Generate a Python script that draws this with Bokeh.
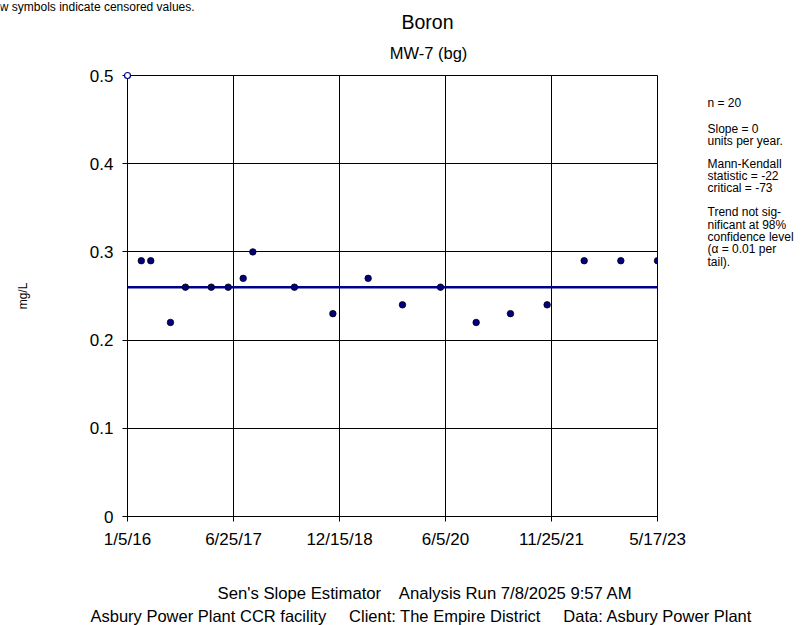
import re
import pandas as pd
from bokeh.plotting import figure
from bokeh.layouts import column, row
from bokeh.models import Range1d, FixedTicker, CustomJSTickFormatter
from bokeh.core.properties import value
from bokeh.embed import file_html
from bokeh.resources import INLINE

# ---- data -------------------------------------------------------------
sample_dates = [
    "2016-03-15", "2016-05-02", "2016-08-10", "2016-10-25", "2017-03-05",
    "2017-05-30", "2017-08-14", "2017-10-02", "2018-05-01", "2018-11-12",
    "2019-05-10", "2019-10-31", "2020-05-11", "2020-11-08", "2021-05-01",
    "2021-11-03", "2022-05-10", "2022-11-12", "2023-05-17",
]
boron_mg_l = [
    0.29, 0.29, 0.22, 0.26, 0.26,
    0.26, 0.27, 0.30, 0.26, 0.23,
    0.27, 0.24, 0.26, 0.22, 0.23,
    0.24, 0.29, 0.29, 0.29,
]
censored_dates = ["2016-01-05"]
censored_values = [0.5]

sen_intercept = 0.26
sen_slope_per_year = 0.0

axis_start = "2016-01-05"
axis_end = "2023-05-17"
x_tick_labels = ["1/5/16", "6/25/17", "12/15/18", "6/5/20", "11/25/21", "5/17/23"]
y_ticks = [0, 0.1, 0.2, 0.3, 0.4, 0.5]
y_tick_labels = ["0", "0.1", "0.2", "0.3", "0.4", "0.5"]

stats_blocks = [
    ["n = 20"],
    ["Slope = 0", "units per year."],
    ["Mann-Kendall", "statistic = -22", "critical = -73"],
    ["Trend not sig-", "nificant at 98%", "confidence level",
     "(\u03b1 = 0.01 per", "tail)."],
]

chart_title = "Boron"
well_label = "MW-7 (bg)"
censor_note = "Hollow symbols indicate censored values."
footer_1 = "Sen's Slope Estimator    Analysis Run 7/8/2025 9:57 AM"
footer_2 = ("Asbury Power Plant CCR facility     Client: The Empire District     "
            "Data: Asbury Power Plant")

# ---- layout constants ---------------------------------------------------
FONT = "Liberation Sans"
W, H = 802, 625
HEADER_H = 64
MAIN_TOP = 11                      # frame top lands at HEADER_H + MAIN_TOP
MAIN_W, MAIN_H = 690, MAIN_TOP + 441 + 40
FOOTER_H = H - HEADER_H - MAIN_H
SIDE_W = W - MAIN_W


def ms(d):
    return pd.Timestamp(d).value / 1e6


def keep_spaces(s):
    # SVG collapses runs of blanks; pad them with no-break spaces
    return re.sub(r" {2,}", lambda m: "\u00a0" * (len(m.group()) - 1) + " ", s)


def text_panel(w, h):
    """Blank figure whose data units are pixels (y grows downwards)."""
    f = figure(width=w, height=h, x_range=Range1d(0, w), y_range=Range1d(h, 0),
               output_backend="svg", toolbar_location=None, min_border=0,
               x_axis_type=None, y_axis_type=None,
               background_fill_color="white", border_fill_color="white")
    f.outline_line_color = None
    f.grid.visible = False
    return f


def put_text(f, x, y, text, size, align="center"):
    f.text(x=[x], y=[y], text=[keep_spaces(text)], text_font=value(FONT),
           text_font_size=value(f"{size}px"), text_align=align,
           text_baseline="middle", text_color="black")


# ---- main chart ---------------------------------------------------------
x0, x1 = ms(axis_start), ms(axis_end)
step = (x1 - x0) / (len(x_tick_labels) - 1)
x_ticks = [x0 + i * step for i in range(len(x_tick_labels))]

p = figure(
    width=MAIN_W, height=MAIN_H, output_backend="svg", toolbar_location=None,
    x_axis_type="datetime",
    x_range=Range1d(x0, x1), y_range=Range1d(0, 0.5),
    min_border_left=127, min_border_right=33,
    min_border_top=MAIN_TOP, min_border_bottom=40,
    background_fill_color="white", border_fill_color="white",
)
p.outline_line_color = "black"

p.xaxis.ticker = FixedTicker(ticks=x_ticks)
p.xaxis.formatter = CustomJSTickFormatter(
    args=dict(labels=x_tick_labels, start=x0, step=step),
    code="return labels[Math.round((tick - start) / step)];",
)
p.yaxis.ticker = FixedTicker(ticks=y_ticks)
p.yaxis.major_label_overrides = {t: s for t, s in zip(y_ticks, y_tick_labels)}
for ax in (p.xaxis[0], p.yaxis[0]):
    ax.axis_line_color = "black"
    ax.major_tick_line_color = "black"
    ax.major_tick_out = 5
    ax.major_tick_in = 0
    ax.minor_tick_line_color = None
    ax.major_label_text_font = FONT
    ax.major_label_text_font_size = "17px"
    ax.major_label_text_color = "black"
p.xaxis.major_label_standoff = 8
p.yaxis.major_label_standoff = 9

p.yaxis.axis_label = "mg/L"
p.yaxis.axis_label_text_font = FONT
p.yaxis.axis_label_text_font_size = "12px"
p.yaxis.axis_label_text_font_style = "normal"
p.yaxis.axis_label_text_color = "black"
p.yaxis.axis_label_standoff = 57

p.xgrid.ticker = FixedTicker(ticks=x_ticks)
p.ygrid.ticker = FixedTicker(ticks=y_ticks)
for g in (p.xgrid[0], p.ygrid[0]):
    g.grid_line_color = "black"
    g.grid_line_width = 1
    g.grid_line_alpha = 1

# Sen's slope line across the full period
line_x = [x0, x1]
line_y = [sen_intercept + sen_slope_per_year * (x - x0) / (365.25 * 86400000)
          for x in line_x]
p.line(line_x, line_y, line_color="#00008B", line_width=2.5)

# detected samples
p.scatter([ms(d) for d in sample_dates], boron_mg_l, size=6.5,
          fill_color="#000080", line_color="black", line_width=0.8)

# censored samples (hollow)
r = p.scatter([ms(d) for d in censored_dates], censored_values, size=6,
              fill_color="white", line_color="#000080", line_width=1.2)
r.level = "overlay"

# ---- header -------------------------------------------------------------
header = text_panel(W, HEADER_H)
put_text(header, -28, 6, censor_note, 12, align="left")
put_text(header, 427, 21, chart_title, 19.5)
put_text(header, 428, 52, well_label, 16.5)

# ---- statistics panel ---------------------------------------------------
frame_top = HEADER_H + MAIN_TOP
side = text_panel(SIDE_W, MAIN_H)
block_tops = [95, 123.3, 162.3, 216.7]   # page y of each block's first line
line_step = 13.8
for top, block in zip(block_tops, stats_blocks):
    for i, line in enumerate(block):
        put_text(side, 17, top - HEADER_H + i * line_step, line, 12, align="left")

# ---- footer -------------------------------------------------------------
footer = text_panel(W, FOOTER_H)
put_text(footer, 425, 37, footer_1, 16.7)
put_text(footer, 421, 59, footer_2, 16.5)

layout = column(header, row(p, side), footer)
open("out.html", "w").write(file_html(layout, INLINE))
